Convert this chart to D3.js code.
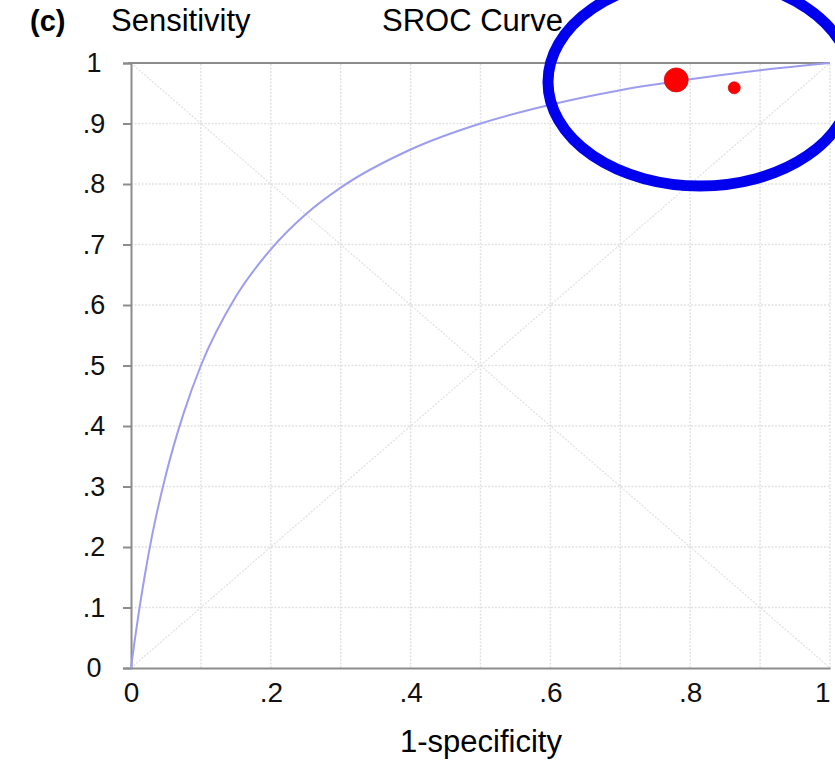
<!DOCTYPE html>
<html>
<head>
<meta charset="utf-8">
<script src="https://cdn.jsdelivr.net/npm/d3@7"></script>
<style>
	body { margin: 0; background: #fff; }
	svg { display: block; font-family: "Liberation Sans", Arial, sans-serif; }
</style>
</head>
<body>
<svg id="chart" width="835" height="760"></svg>
<script>
// summary ROC curve: [1-specificity, sensitivity]
let curvePoints = [
	[0, 0], [0.005, 0.043], [0.01, 0.083], [0.02, 0.155], [0.03, 0.218],
	[0.05, 0.32], [0.075, 0.42], [0.1, 0.5], [0.15, 0.614], [0.2, 0.692],
	[0.25, 0.75], [0.3, 0.794], [0.4, 0.857], [0.5, 0.9], [0.6, 0.931],
	[0.7, 0.955], [0.8, 0.973], [0.9, 0.988], [1, 1]
];
// individual studies
let studyFpr = [0.780, 0.863];
let studySens = [0.972, 0.959];
let studyWeight = [4, 1];

let xTicks = [0, 0.2, 0.4, 0.6, 0.8, 1];
let yTicks = [0, 0.1, 0.2, 0.3, 0.4, 0.5, 0.6, 0.7, 0.8, 0.9, 1];
let gridTicks = d3.range(0, 11).map((i) => i / 10);

let fmt = (v) => v == 0 ? "0" : v == 1 ? "1" : ("" + v).replace(/^0/, "");

let svg = d3.select("#chart");
let plotLeft = 131, plotRight = 830, plotTop = 63, plotBottom = 668;

let x = d3.scaleLinear().domain([0, 1]).range([plotLeft, plotRight]);
let y = d3.scaleLinear().domain([0, 1]).range([plotBottom, plotTop]);
let r = d3.scaleSqrt().domain([0, 4]).range([0, 12]);

// grid
let grid = svg.append("g");
grid.selectAll("line.gx").data(gridTicks.slice(1)).enter().append("line")
	.attr("x1", x).attr("x2", x).attr("y1", y(0)).attr("y2", y(1))
	.style("stroke", "#e2e2e2").style("stroke-width", 1.5).style("stroke-dasharray", "2,1.5");
grid.selectAll("line.gy").data(gridTicks.slice(1, 10)).enter().append("line")
	.attr("y1", y).attr("y2", y).attr("x1", x(0)).attr("x2", x(1))
	.style("stroke", "#e2e2e2").style("stroke-width", 1.5).style("stroke-dasharray", "2,1.5");

// diagonals
[[0, 0, 1, 1], [0, 1, 1, 0]].forEach((d) => {
	grid.append("line")
		.attr("x1", x(d[0])).attr("y1", y(d[1])).attr("x2", x(d[2])).attr("y2", y(d[3]))
		.style("stroke", "#e0e0e0").style("stroke-width", 1.2).style("stroke-dasharray", "2,1.5");
});

// axes
let yAxis = svg.append("g")
	.attr("transform", "translate(" + plotLeft + ",0)")
	.call(d3.axisLeft(y).tickValues(yTicks).tickFormat(fmt).tickSize(8).tickPadding(29));
let xAxis = svg.append("g")
	.attr("transform", "translate(0," + plotBottom + ")")
	.call(d3.axisBottom(x).tickValues(xTicks).tickFormat(fmt).tickSize(0).tickPadding(14));
[yAxis, xAxis].forEach((a) => {
	a.select(".domain").style("stroke", "#8c8c8c").style("stroke-width", 2);
	a.selectAll(".tick line").style("stroke", "#8c8c8c").style("stroke-width", 2);
	a.selectAll(".tick text").style("fill", "#111")
		.style("font-family", "Liberation Sans, Arial, sans-serif");
});
yAxis.selectAll(".tick text").attr("text-anchor", "middle").style("font-size", "27px");
xAxis.selectAll(".tick text").attr("dy", "0.71em").style("font-size", "28px");
xAxis.selectAll(".tick text").filter((d) => d == 1).attr("text-anchor", "end");
// top border
svg.append("line")
	.attr("x1", x(0) - 3).attr("x2", x(1)).attr("y1", y(1)).attr("y2", y(1))
	.style("stroke", "#8c8c8c").style("stroke-width", 2);

// curve
svg.append("path")
	.datum(curvePoints)
	.attr("d", d3.line().x((d) => x(d[0])).y((d) => y(d[1])).curve(d3.curveMonotoneX))
	.style("fill", "none").style("stroke", "#9d9df0").style("stroke-width", 2);

// studies
svg.selectAll("circle.study").data(studyFpr).enter().append("circle")
	.attr("cx", (d) => x(d))
	.attr("cy", (d, i) => y(studySens[i]))
	.attr("r", (d, i) => r(studyWeight[i]))
	.style("fill", "#ff0000").style("stroke", "#cc1010").style("stroke-width", 0.8);

// titles
svg.append("text").attr("x", 30).attr("y", 31).text("(c)")
	.style("font-size", "29px").style("font-weight", "bold");
svg.append("text").attr("x", 111).attr("y", 31).text("Sensitivity")
	.style("font-size", "31px");
svg.append("text").attr("x", 382).attr("y", 31).text("SROC Curve")
	.style("font-size", "31px");
svg.append("text").attr("x", 481).attr("y", 752).attr("text-anchor", "middle")
	.text("1-specificity").style("font-size", "31px");

// highlight ellipse
svg.append("ellipse")
	.attr("cx", 700).attr("cy", 82).attr("rx", 152).attr("ry", 104)
	.style("fill", "none").style("stroke", "#0000ee").style("stroke-width", 11);
</script>
</body>
</html>
